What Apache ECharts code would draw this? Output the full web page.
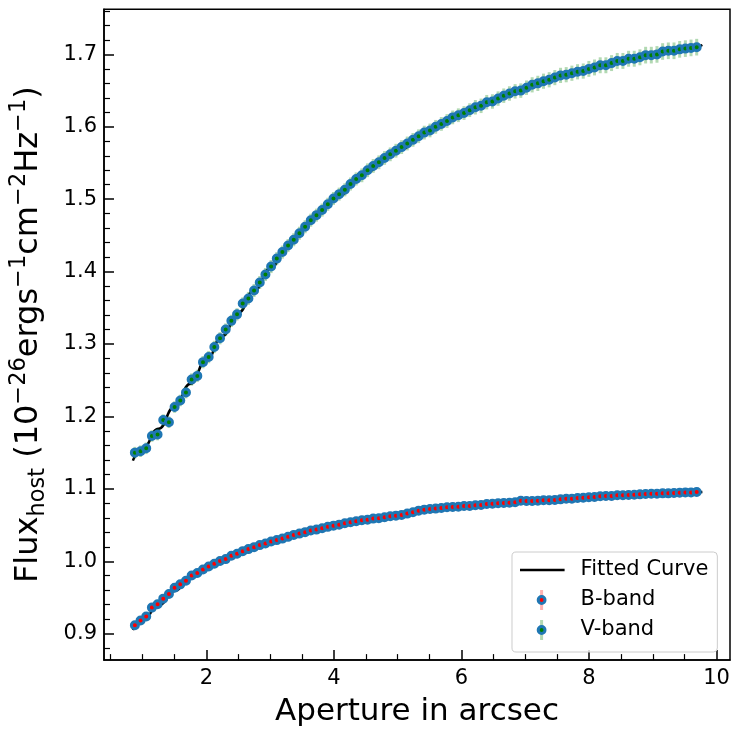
<!DOCTYPE html>
<html>
<head>
<meta charset="utf-8">
<script src="https://cdn.jsdelivr.net/npm/echarts@6/dist/echarts.min.js"></script>
<style>
  html, body { margin: 0; padding: 0; background: #fff; }
  #chart { width: 734px; height: 735px; }
</style>
</head>
<body>
<div id="chart"></div>
<script>
// Aperture radii (arcsec) shared by both bands
const aperture = [
  0.879, 0.968, 1.057, 1.146, 1.235, 1.324, 1.413, 1.502, 1.591, 1.680,
  1.769, 1.858, 1.947, 2.036, 2.125, 2.214, 2.303, 2.392, 2.481, 2.570,
  2.659, 2.748, 2.837, 2.926, 3.015, 3.104, 3.192, 3.281, 3.370, 3.459,
  3.548, 3.637, 3.726, 3.815, 3.904, 3.993, 4.082, 4.171, 4.260, 4.349,
  4.438, 4.527, 4.616, 4.705, 4.794, 4.883, 4.972, 5.061, 5.150, 5.239,
  5.328, 5.417, 5.506, 5.595, 5.684, 5.773, 5.862, 5.951, 6.040, 6.129,
  6.218, 6.307, 6.396, 6.485, 6.574, 6.663, 6.752, 6.841, 6.930, 7.019,
  7.108, 7.197, 7.286, 7.375, 7.464, 7.553, 7.642, 7.731, 7.820, 7.909,
  7.997, 8.086, 8.175, 8.264, 8.353, 8.442, 8.531, 8.620, 8.709, 8.798,
  8.887, 8.976, 9.065, 9.154, 9.243, 9.332, 9.421, 9.510, 9.599, 9.688
];

// Host flux, V-band
const vBand = [
  1.150, 1.152, 1.156, 1.173, 1.175, 1.195, 1.192, 1.213, 1.222, 1.233,
  1.251, 1.256, 1.275, 1.282, 1.296, 1.308, 1.320, 1.332, 1.341, 1.356,
  1.363, 1.374, 1.385, 1.396, 1.407, 1.418, 1.427, 1.436, 1.444, 1.453,
  1.462, 1.471, 1.478, 1.485, 1.493, 1.501, 1.507, 1.513, 1.521, 1.528,
  1.533, 1.540, 1.546, 1.551, 1.557, 1.562, 1.567, 1.572, 1.577, 1.582,
  1.587, 1.592, 1.595, 1.600, 1.604, 1.608, 1.613, 1.616, 1.619, 1.623,
  1.627, 1.629, 1.634, 1.635, 1.639, 1.643, 1.646, 1.649, 1.650, 1.654,
  1.658, 1.660, 1.663, 1.665, 1.668, 1.671, 1.672, 1.674, 1.676, 1.677,
  1.680, 1.682, 1.685, 1.685, 1.688, 1.691, 1.691, 1.694, 1.694, 1.696,
  1.699, 1.699, 1.700, 1.704, 1.705, 1.705, 1.707, 1.708, 1.709, 1.710
];

// Host flux, B-band
const bBand = [
  0.9117, 0.9181, 0.9236, 0.9360, 0.9406, 0.9484, 0.9549, 0.9635, 0.9681, 0.9731,
  0.9804, 0.9837, 0.9887, 0.9928, 0.9966, 1.0003, 1.0030, 1.0076, 1.0103, 1.0140,
  1.0168, 1.0195, 1.0223, 1.0245, 1.0272, 1.0292, 1.0313, 1.0337, 1.0364, 1.0382,
  1.0402, 1.0424, 1.0437, 1.0457, 1.0475, 1.0492, 1.0506, 1.0525, 1.0539, 1.0553,
  1.0567, 1.0575, 1.0589, 1.0594, 1.0608, 1.0622, 1.0630, 1.0640, 1.0658, 1.0677,
  1.0699, 1.0713, 1.0722, 1.0727, 1.0736, 1.0746, 1.0750, 1.0754, 1.0763, 1.0763,
  1.0773, 1.0777, 1.0791, 1.0795, 1.0800, 1.0804, 1.0809, 1.0814, 1.0836, 1.0832,
  1.0832, 1.0836, 1.0842, 1.0842, 1.0846, 1.0855, 1.0864, 1.0864, 1.0873, 1.0878,
  1.0883, 1.0887, 1.0897, 1.0901, 1.0901, 1.0911, 1.0911, 1.0915, 1.0919, 1.0924,
  1.0928, 1.0932, 1.0932, 1.0938, 1.0938, 1.0942, 1.0946, 1.0951, 1.0951, 1.0956
];

// 1-sigma uncertainties
const vErr = [
  0.0080, 0.0080, 0.0080, 0.0080, 0.0080, 0.0080, 0.0080, 0.0080, 0.0080, 0.0080,
  0.0085, 0.0085, 0.0085, 0.0085, 0.0085, 0.0085, 0.0085, 0.0085, 0.0085, 0.0085,
  0.0090, 0.0090, 0.0090, 0.0090, 0.0090, 0.0090, 0.0090, 0.0090, 0.0090, 0.0090,
  0.0090, 0.0090, 0.0090, 0.0090, 0.0090, 0.0090, 0.0090, 0.0090, 0.0090, 0.0090,
  0.0095, 0.0095, 0.0095, 0.0095, 0.0095, 0.0095, 0.0095, 0.0095, 0.0095, 0.0095,
  0.0095, 0.0095, 0.0095, 0.0095, 0.0095, 0.0095, 0.0095, 0.0095, 0.0095, 0.0095,
  0.0100, 0.0100, 0.0100, 0.0100, 0.0100, 0.0100, 0.0100, 0.0100, 0.0100, 0.0100,
  0.0105, 0.0105, 0.0105, 0.0105, 0.0105, 0.0105, 0.0105, 0.0105, 0.0105, 0.0105,
  0.0110, 0.0110, 0.0110, 0.0110, 0.0110, 0.0110, 0.0110, 0.0110, 0.0110, 0.0110,
  0.0115, 0.0115, 0.0115, 0.0115, 0.0115, 0.0115, 0.0115, 0.0115, 0.0115, 0.0115
];
const bErr = [
  0.006, 0.006, 0.006, 0.006, 0.006, 0.006, 0.006, 0.006, 0.006, 0.006,
  0.006, 0.006, 0.006, 0.006, 0.006, 0.006, 0.006, 0.006, 0.006, 0.006,
  0.006, 0.006, 0.006, 0.006, 0.006, 0.006, 0.006, 0.006, 0.006, 0.006,
  0.006, 0.006, 0.006, 0.006, 0.006, 0.006, 0.006, 0.006, 0.006, 0.006,
  0.006, 0.006, 0.006, 0.006, 0.006, 0.006, 0.006, 0.006, 0.006, 0.006,
  0.006, 0.006, 0.006, 0.006, 0.006, 0.006, 0.006, 0.006, 0.006, 0.006,
  0.006, 0.006, 0.006, 0.006, 0.006, 0.006, 0.006, 0.006, 0.006, 0.006,
  0.006, 0.006, 0.006, 0.006, 0.006, 0.006, 0.006, 0.006, 0.006, 0.006,
  0.006, 0.006, 0.006, 0.006, 0.006, 0.006, 0.006, 0.006, 0.006, 0.006,
  0.006, 0.006, 0.006, 0.006, 0.006, 0.006, 0.006, 0.006, 0.006, 0.006
];

// Fitted growth curves
const fitAperture = [0.848, 1.0, 1.25, 1.5, 1.75, 2.0, 2.25, 2.5, 2.75, 3.0, 3.25, 3.5, 3.75, 4.0,
                     4.5, 5.0, 5.5, 6.0, 6.5, 7.0, 7.5, 8.0, 8.5, 9.0, 9.5, 9.777];
const fitV = [1.139, 1.156, 1.183, 1.213, 1.245, 1.278, 1.311, 1.343, 1.374, 1.404, 1.432, 1.458, 1.481, 1.501,
              1.538, 1.568, 1.595, 1.618, 1.637, 1.653, 1.667, 1.679, 1.690, 1.699, 1.707, 1.713];
const fitB = [0.905, 0.918, 0.939, 0.959, 0.976, 0.990, 1.002, 1.012, 1.020, 1.027, 1.033, 1.039, 1.044, 1.049,
              1.057, 1.063, 1.069, 1.074, 1.079, 1.082, 1.085, 1.088, 1.090, 1.093, 1.095, 1.0958];

// Tick positions
const xMajorTicks = [2, 4, 6, 8, 10];
const xMinorTicks = [0.5, 1, 1.5, 2.5, 3, 3.5, 4.5, 5, 5.5, 6.5, 7, 7.5, 8.5, 9, 9.5];
const yMajorTicks = [0.9, 1.0, 1.1, 1.2, 1.3, 1.4, 1.5, 1.6, 1.7];
const yMinorTicks = [0.88, 0.92, 0.94, 0.96, 0.98, 1.02, 1.04, 1.06, 1.08, 1.12, 1.14, 1.16, 1.18,
                     1.22, 1.24, 1.26, 1.28, 1.32, 1.34, 1.36, 1.38, 1.42, 1.44, 1.46, 1.48,
                     1.52, 1.54, 1.56, 1.58, 1.62, 1.64, 1.66, 1.68, 1.72, 1.74, 1.76];

const FONT = 'DejaVu Sans';
const X_MIN = 0.395, X_MAX = 10.21;
const Y_MIN = 0.8635, Y_MAX = 1.7623;

const BLUE = '#1f77b4';
const bBarColor = 'rgba(255,0,0,0.3)';
const vBarColor = 'rgba(0,128,0,0.3)';

function svgIcon(body) {
  const svg = "<svg xmlns='http://www.w3.org/2000/svg' width='56' height='24' viewBox='0 0 56 24'>" + body + "</svg>";
  return 'image://data:image/svg+xml;charset=utf-8,' + encodeURIComponent(svg);
}
const lineIcon = svgIcon("<line x1='0' y1='12' x2='45' y2='12' stroke='#000' stroke-width='2.5'/>");
const bIcon = svgIcon("<line x1='22' y1='2' x2='22' y2='22' stroke='rgb(255,179,179)' stroke-width='3'/>" +
  "<circle cx='22' cy='12' r='3.4' fill='#ff0000' stroke='" + BLUE + "' stroke-width='3'/>");
const vIcon = svgIcon("<line x1='22' y1='2' x2='22' y2='22' stroke='rgb(179,217,179)' stroke-width='3'/>" +
  "<circle cx='22' cy='12' r='3.4' fill='#008000' stroke='" + BLUE + "' stroke-width='3'/>");

function pairs(xs, ys) { return xs.map((x, i) => [x, ys[i]]); }
function errRows(xs, ys, es) { return xs.map((x, i) => [x, ys[i] - es[i], ys[i] + es[i]]); }

function errorBars(color) {
  return function (params, api) {
    const p1 = api.coord([api.value(0), api.value(1)]);
    const p2 = api.coord([api.value(0), api.value(2)]);
    return {
      type: 'line',
      shape: { x1: p1[0], y1: p1[1], x2: p2[0], y2: p2[1] },
      style: { stroke: color, lineWidth: 3 }
    };
  };
}

const chart = echarts.init(document.getElementById('chart'), null, { renderer: 'canvas' });

const supStyle = { fontFamily: FONT, fontSize: 22.5, color: '#000', verticalAlign: 'top', lineHeight: 23 };
const subStyle = { fontFamily: FONT, fontSize: 22.5, color: '#000', verticalAlign: 'bottom', lineHeight: 23 };

chart.setOption({
  animation: false,
  backgroundColor: '#fff',
  grid: {
    left: 103.3, right: 4, top: 9.3, bottom: 72.3,
    show: true, borderColor: '#000', borderWidth: 1.5, backgroundColor: 'transparent'
  },
  legend: {
    orient: 'vertical',
    left: 512, top: 552,
    padding: [6, 9, 10, 7.6],
    itemWidth: 56, itemHeight: 24, itemGap: 6,
    backgroundColor: 'rgba(255,255,255,0.8)',
    borderColor: '#cccccc', borderWidth: 1, borderRadius: 4,
    textStyle: { fontFamily: FONT, fontSize: 21, color: '#000', lineHeight: 24 },
    data: [
      { name: 'Fitted Curve', icon: lineIcon },
      { name: 'B-band', icon: bIcon },
      { name: 'V-band', icon: vIcon }
    ]
  },
  xAxis: [
    {
      type: 'value', min: X_MIN, max: X_MAX, position: 'bottom',
      name: 'Aperture in arcsec', nameLocation: 'middle', nameGap: 28,
      nameTextStyle: { fontFamily: FONT, fontSize: 31, color: '#000', lineHeight: 36 },
      axisLine: { show: true, lineStyle: { color: '#000', width: 1.5 } },
      axisTick: { show: true, inside: true, length: 10, customValues: xMajorTicks,
                  lineStyle: { color: '#000', width: 1.5 } },
      axisLabel: { show: true, customValues: xMajorTicks, margin: 8,
                   fontFamily: FONT, fontSize: 21, color: '#000',
                   formatter: v => String(Math.round(v)) },
      splitLine: { show: false }
    },
    {
      type: 'value', min: X_MIN, max: X_MAX, position: 'bottom', gridIndex: 0,
      axisLine: { show: false },
      axisTick: { show: true, inside: true, length: 6, customValues: xMinorTicks,
                  lineStyle: { color: '#000', width: 1.2 } },
      axisLabel: { show: false },
      splitLine: { show: false }
    }
  ],
  yAxis: [
    {
      type: 'value', min: Y_MIN, max: Y_MAX, position: 'left',
      name: '{b|Flux}{s|host}{b| (10}{p|\u221226}{b|ergs}{p|\u22121}{b|cm}{p|\u22122}{b|Hz}{p|\u22121}{b|)}',
      nameLocation: 'middle', nameRotate: 90, nameGap: 54,
      nameTextStyle: {
        fontFamily: FONT, fontSize: 32, color: '#000',
        rich: {
          b: { fontFamily: FONT, fontSize: 32, color: '#000', lineHeight: 42 },
          s: subStyle,
          p: supStyle
        }
      },
      axisLine: { show: true, lineStyle: { color: '#000', width: 1.5 } },
      axisTick: { show: true, inside: true, length: 10, customValues: yMajorTicks,
                  lineStyle: { color: '#000', width: 1.5 } },
      axisLabel: { show: true, customValues: yMajorTicks, margin: 7,
                   fontFamily: FONT, fontSize: 21, color: '#000',
                   formatter: v => v.toFixed(1) },
      splitLine: { show: false }
    },
    {
      type: 'value', min: Y_MIN, max: Y_MAX, position: 'left', gridIndex: 0,
      axisLine: { show: false },
      axisTick: { show: true, inside: true, length: 6, customValues: yMinorTicks,
                  lineStyle: { color: '#000', width: 1.2 } },
      axisLabel: { show: false },
      splitLine: { show: false }
    }
  ],
  series: [
    {
      name: 'Fitted Curve', type: 'line', data: pairs(fitAperture, fitV), z: 1,
      showSymbol: false, smooth: true, smoothMonotone: 'x',
      lineStyle: { color: '#000', width: 2.5 }, itemStyle: { color: '#000' }
    },
    {
      name: 'Fitted Curve', type: 'line', data: pairs(fitAperture, fitB), z: 1,
      showSymbol: false, smooth: true, smoothMonotone: 'x',
      lineStyle: { color: '#000', width: 2.5 }, itemStyle: { color: '#000' }
    },
    {
      name: 'B-band', type: 'custom', renderItem: errorBars(bBarColor), z: 2,
      data: errRows(aperture, bBand, bErr), encode: { x: 0, y: [1, 2] },
      itemStyle: { color: bBarColor }
    },
    {
      name: 'B-band', type: 'scatter', data: pairs(aperture, bBand), z: 3,
      symbol: 'circle', symbolSize: 7,
      itemStyle: { color: '#ff0000', borderColor: BLUE, borderWidth: 3, opacity: 1 }
    },
    {
      name: 'V-band', type: 'custom', renderItem: errorBars(vBarColor), z: 2,
      data: errRows(aperture, vBand, vErr), encode: { x: 0, y: [1, 2] },
      itemStyle: { color: vBarColor }
    },
    {
      name: 'V-band', type: 'scatter', data: pairs(aperture, vBand), z: 3,
      symbol: 'circle', symbolSize: 7,
      itemStyle: { color: '#008000', borderColor: BLUE, borderWidth: 3, opacity: 1 }
    }
  ]
});
</script>
</body>
</html>
